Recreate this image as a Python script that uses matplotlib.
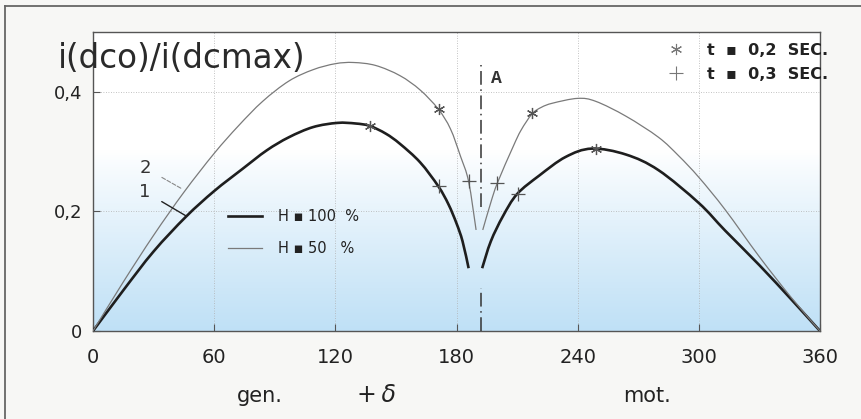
import numpy as np
import matplotlib
matplotlib.use("Agg")
import matplotlib.pyplot as plt
from matplotlib.lines import Line2D
from matplotlib.path import Path
from matplotlib.patches import PathPatch

# ---------------- data ----------------
# H = 100 % (curve 1, thick)
h100_left_x = [0, 15, 30, 46, 60, 74, 86, 97, 109, 121, 130, 137, 145, 152, 162, 171, 176, 180, 183, 186]
h100_left_y = [0, 0.068, 0.133, 0.191, 0.234, 0.271, 0.302, 0.324, 0.341, 0.348, 0.347, 0.343, 0.330, 0.313, 0.282, 0.242, 0.212, 0.180, 0.150, 0.105]
h100_right_x = [192.7, 197, 203, 210, 221, 234, 247, 264, 280, 300, 313, 330, 346, 360]
h100_right_y = [0.105, 0.150, 0.192, 0.229, 0.260, 0.291, 0.305, 0.295, 0.269, 0.214, 0.168, 0.110, 0.052, 0]

# H = 50 % (curve 2, thin)
h50_left_x = [0, 15, 30, 45, 60, 72, 84, 97, 109, 120, 129, 140, 152, 162, 171, 177, 182, 186, 189.7]
h50_left_y = [0, 0.082, 0.160, 0.232, 0.297, 0.343, 0.384, 0.418, 0.437, 0.447, 0.449, 0.444, 0.427, 0.403, 0.371, 0.338, 0.292, 0.250, 0.169]
h50_right_x = [193, 197, 200.3, 208, 212, 217.4, 222, 227.6, 240, 249, 264, 280, 290, 300, 313, 330, 346, 360]
h50_right_y = [0.169, 0.215, 0.248, 0.308, 0.336, 0.363, 0.374, 0.381, 0.389, 0.384, 0.359, 0.324, 0.293, 0.257, 0.203, 0.124, 0.055, 0]

# markers: t = 0.2 s (asterisk) and t = 0.3 s (plus)
t02_x = [137, 249, 171.3, 217.4]
t02_y = [0.343, 0.304, 0.371, 0.365]
t03_x = [171.3, 210.3, 186.1, 200.3]
t03_y = [0.242, 0.229, 0.250, 0.248]

x_ticks = [0, 60, 120, 180, 240, 300, 360]
x_tick_labels = ["0", "60", "120", "180", "240", "300", "360"]
y_ticks = [0, 0.2, 0.4]
y_tick_labels = ["0", "0,2", "0,4"]

line_a_x = 192.1


def smooth_path(xs, ys):
    """Catmull-Rom curve through the given points, drawn as cubic Bezier segments."""
    p = np.column_stack([xs, ys]).astype(float)
    n = len(p)
    ext = np.vstack([p[0], p, p[-1]])
    verts = [p[0]]
    codes = [Path.MOVETO]
    for i in range(n - 1):
        p0, p1, p2, p3 = ext[i], ext[i + 1], ext[i + 2], ext[i + 3]
        b1 = p1 + (p2 - p0) / 6.0
        b2 = p2 - (p3 - p1) / 6.0
        verts += [b1, b2, p2]
        codes += [Path.CURVE4] * 3
    return Path(verts, codes)


# ---------------- figure ----------------
W, H = 861, 419
fig = plt.figure(figsize=(W / 100, H / 100), dpi=100)
fig.patch.set_facecolor("#f7f7f5")

ax = fig.add_axes([93 / W, 1 - 331 / H, 727 / W, 299 / H])
ax.set_xlim(0, 360)
ax.set_ylim(0, 0.5)
ax.set_facecolor("white")

# gradient background (white at top, light blue at bottom)
ny = 200
v = np.linspace(0, 1, ny)[:, None]          # 0 bottom -> 1 top
t = np.clip((0.60 - v) / 0.60, 0, 1) ** 0.9
top = np.array([1.0, 1.0, 1.0])
bot = np.array([0.75, 0.88, 0.965])
img = top[None, None, :] * (1 - t[..., None]) + bot[None, None, :] * t[..., None]
img = np.repeat(img, 2, axis=1)
ax.imshow(img, extent=[0, 360, 0, 0.5], origin="lower", aspect="auto", zorder=0,
          interpolation="bilinear")

# grid
for xv in x_ticks[1:-1]:
    ax.axvline(xv, color="#b0b0b0", lw=0.6, ls=(0, (1, 2)), zorder=1)
for yv in y_ticks[1:]:
    ax.axhline(yv, color="#b0b0b0", lw=0.6, ls=(0, (1, 2)), zorder=1)

# curves
c100 = "#1e1e1e"
c50 = "#7a7a7a"
for xs, ys in [(h100_left_x, h100_left_y), (h100_right_x, h100_right_y)]:
    ax.add_patch(PathPatch(smooth_path(xs, ys), facecolor="none", edgecolor=c100,
                           lw=1.9, zorder=3, capstyle="butt"))
for xs, ys in [(h50_left_x, h50_left_y), (h50_right_x, h50_right_y)]:
    ax.add_patch(PathPatch(smooth_path(xs, ys), facecolor="none", edgecolor=c50,
                           lw=0.9, zorder=3))

ax.plot(t02_x, t02_y, ls="none", marker=(6, 2, 0), ms=8, mew=0.9, color="#555555", zorder=4)
ax.plot(t03_x, t03_y, ls="none", marker="+", ms=10, mew=0.9, color="#555555", zorder=4)

# dash-dot line "A"
ax.plot([line_a_x, line_a_x], [0.207, 0.445], color="#333333", lw=1.1,
        ls=(0, (9, 3, 1, 3)), zorder=3)
ax.plot([line_a_x, line_a_x], [0.0, 0.072], color="#333333", lw=1.1,
        ls=(0, (9, 3, 1, 3)), zorder=3)
ax.text(197, 0.423, "A", family="Liberation Mono", fontweight="bold", fontsize=13,
        color="#333333", va="center", ha="left")

# curve labels 1 and 2 with leader lines
ax.annotate("2", xy=(43.9, 0.238), xytext=(25.7, 0.273), fontsize=13, color="#333333",
            ha="center", va="center",
            arrowprops=dict(arrowstyle="-", color="#888888", lw=0.8, ls="--",
                            shrinkA=7, shrinkB=0))
ax.annotate("1", xy=(46.3, 0.192), xytext=(25.7, 0.233), fontsize=13, color="#333333",
            ha="center", va="center",
            arrowprops=dict(arrowstyle="-", color="#222222", lw=1.0,
                            shrinkA=7, shrinkB=0))

# spines and ticks
for s in ax.spines.values():
    s.set_color("#555555")
    s.set_linewidth(1.0)
ax.set_xticks(x_ticks)
ax.set_xticklabels(x_tick_labels)
ax.set_yticks(y_ticks)
ax.set_yticklabels(y_tick_labels)
ax.tick_params(axis="x", direction="in", length=5, width=0.8, color="#555555",
               labelsize=14, labelcolor="#222222", pad=12)
ax.tick_params(axis="y", direction="in", length=5, width=0.8, color="#555555",
               labelsize=13, labelcolor="#222222", pad=8)

# legends
h_handles = [Line2D([], [], color=c100, lw=1.9), Line2D([], [], color=c50, lw=0.9)]
leg1 = ax.legend(h_handles, ["H \u25aa 100  %", "H \u25aa 50   %"],
                 loc="upper left", bbox_to_anchor=(228 / W, 1 - 209 / H),
                 bbox_transform=fig.transFigure, frameon=False, fontsize=10.5,
                 handlelength=2.3, handletextpad=1.1, labelspacing=1.15,
                 borderpad=0, borderaxespad=0)
for txt in leg1.get_texts():
    txt.set_color("#222222")
ax.add_artist(leg1)

m_handles = [Line2D([], [], ls="none", marker=(6, 2, 0), ms=8, mew=0.8, color="#777777"),
             Line2D([], [], ls="none", marker="+", ms=10, mew=0.8, color="#777777")]
leg2 = ax.legend(m_handles, ["t  \u25aa  0,2  SEC.", "t  \u25aa  0,3  SEC."],
                 loc="upper left", bbox_to_anchor=(661 / W, 1 - 43 / H),
                 bbox_transform=fig.transFigure, frameon=False, fontsize=11.5,
                 handlelength=1.9, handletextpad=0.95, labelspacing=0.55,
                 borderpad=0, borderaxespad=0)
for txt in leg2.get_texts():
    txt.set_color("#222222")
    txt.set_fontweight("bold")

# axis titles
fig.text(58 / W, 1 - 68 / H, "i(dco)/i(dcmax)", fontsize=23.5, color="#2a2a2a",
         ha="left", va="baseline")
fig.text(237 / W, 1 - 402 / H, "gen.", fontsize=15, color="#222222", ha="left", va="baseline")
fig.text(357 / W, 1 - 402 / H, "+\u2009\u03b4", fontsize=17, color="#222222", ha="left",
         va="baseline", style="italic")
fig.text(623 / W, 1 - 402 / H, "mot.", fontsize=15, color="#222222", ha="left", va="baseline")

# outer frame (top and left edges)
fig.add_artist(Line2D([5 / W, 1], [1 - 6 / H, 1 - 6 / H], transform=fig.transFigure,
                      color="#666666", lw=1.3))
fig.add_artist(Line2D([5 / W, 5 / W], [0, 1 - 6 / H], transform=fig.transFigure,
                      color="#666666", lw=1.3))

fig.savefig("out.png", dpi=100, facecolor=fig.get_facecolor())
